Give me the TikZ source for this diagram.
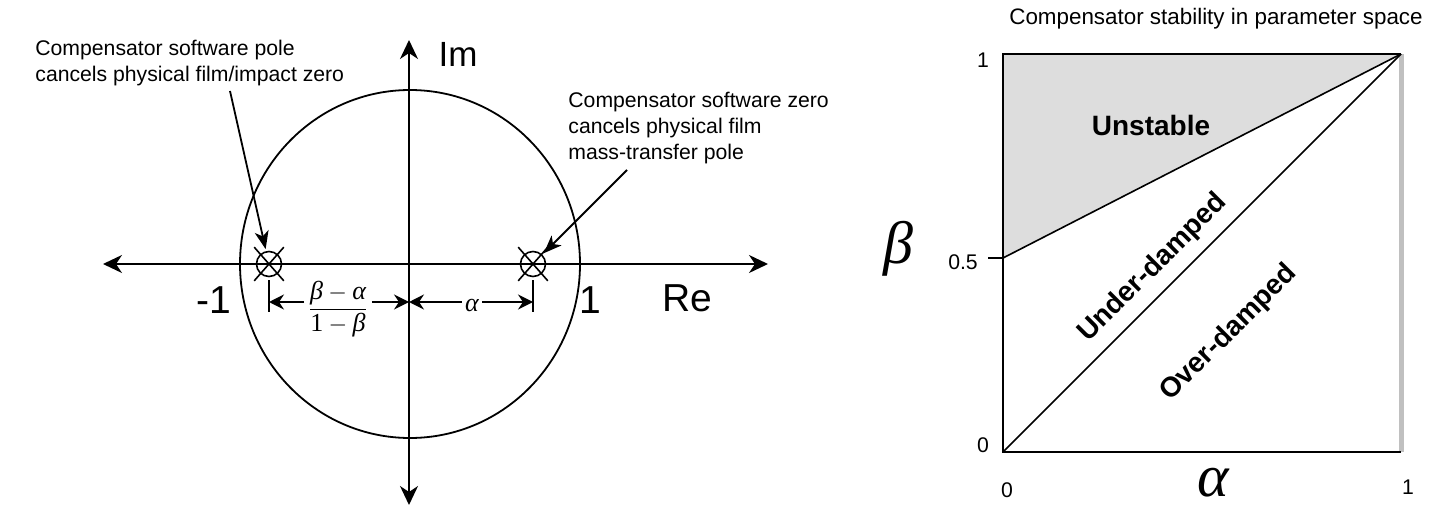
\documentclass[tikz,border=0pt]{standalone}
\usepackage{fontspec}
\setmainfont{Liberation Sans}
\newfontfamily\gkfont{Liberation Serif}
\newcommand\gbeta{\mbox{\gkfont\itshape β}}
\newcommand\galpha{\mbox{\gkfont\itshape α}}
\newcommand\gone{\mbox{\gkfont 1}}
\usetikzlibrary{positioning,arrows.meta,calc,shapes.misc}
\definecolor{greyfill}{HTML}{DDDDDD}
\definecolor{edge}{HTML}{C0C0C0}

\begin{document}
\begin{tikzpicture}[x=0.5pt,y=-0.5pt,
  font=\fontsize{10.6}{13}\selectfont,
  ax/.style={line width=0.9pt,{Stealth[length=9.5pt,width=9pt,inset=3pt]}-{Stealth[length=9.5pt,width=9pt,inset=3pt]}},
  dim/.style={line width=0.9pt,-{Stealth[length=7.5pt,width=7.5pt,inset=2.5pt]}},
  note/.style={line width=0.9pt,shorten >=1pt,-{Stealth[length=9pt,width=7pt,inset=2.5pt]}},
  big/.style={font=\fontsize{19.5}{22}\selectfont},
  txt/.style={align=left,inner sep=0pt,anchor=north west},
  pz/.style={circle,draw,line width=0.8pt,minimum size=12.5pt,inner sep=0pt},
  px/.style={cross out,draw,line width=0.8pt,minimum width=14pt,minimum height=16pt,inner sep=0pt},
  reg/.style={font=\fontsize{14}{16}\selectfont\bfseries},
  greek/.style={font=\fontsize{30}{34}\selectfont\gkfont\itshape},
  frac/.style={font=\fontsize{13}{15}\selectfont,inner sep=1.5pt}]
\useasboundingbox (0,0) rectangle (1429,519);
% z-plane
\coordinate (w) at (103,264); \coordinate (e) at (768,264);
\coordinate (n) at (409,40); \coordinate (s) at (409,505);
\draw[line width=0.9pt] (410,264) ellipse[x radius=85pt,y radius=87pt];
\draw[ax] (w)--(e); \draw[ax] (s)--(n);
\node[pz] (p) at (269,264) {}; \node[px] at (p) {};
\node[pz] (z) at (533,264) {}; \node[px] at (z) {};
\node[big] (m1) at (214,300) {-1};
\node[big] (one) at (590,300) {1};
\node[big] (re) at (687,298) {Re};
\node[font=\fontsize{17.5}{20}\selectfont] (im) at (458,54) {Im};
% dimensions
\draw[line width=0.8pt] (269,280)--(269,312);
\draw[line width=0.8pt] (533,280)--(533,312);
\coordinate (dl) at (269,302); \coordinate (dm) at (409,302); \coordinate (dr) at (533,302);
\node[frac] (fr) at (338,309) {$\displaystyle\frac{\gbeta-\galpha}{\gone-\gbeta}$};
\node[frac] (al) at (472,305) {$\galpha$};
\draw[dim] (fr.west |- dl)--(dl); \draw[dim] (fr.east |- dm)--(dm);
\draw[dim] (al.west |- dm)--(dm); \draw[dim] (al.east |- dr)--(dr);
% notes
\node[txt] (pn) at (35,40) {Compensator software pole\\cancels physical film/impact zero};
\node[txt] (zn) at (568,92) {Compensator software zero\\cancels physical film\\mass-transfer pole};
\coordinate (pa) at (230,91); \coordinate (za) at (627,170);
\draw[note] (pa)--(p); \draw[note] (za)--(z);
% parameter space
\coordinate (a0) at (1003,452); \coordinate (a1) at (1401,452);
\coordinate (b1) at (1003,54); \coordinate (c) at (1401,54);
\coordinate (bh) at (1003,258);
\fill[greyfill] (bh)--(b1)--(c)--cycle;
\draw[edge,line width=2.5pt] (a1)--(c);
\draw[line width=1pt] (a1)--(a0)--(b1)--(c);
\draw[line width=0.8pt] (a0)--(c); \draw[line width=0.8pt] (bh)--(c);
\draw[line width=0.8pt] (bh)--++(-15,0);
\node[font=\fontsize{11.2}{13}\selectfont] (ti) at (1216,19) {Compensator stability in parameter space};
\node (y1) at (983,60) {1}; \node (yh) at (963,262) {0.5}; \node (y0) at (983,445) {0};
\node (x0) at (1007,490) {0}; \node (x1) at (1408,487) {1};
\node[greek] (be) at (898,249) {β};
\node[greek] (alp) at (1213,483) {α};
\node[reg] (us) at (1151,125) {Unstable};
\node[reg,rotate=45] (ud) at (1153,268) {Under-damped};
\node[reg,rotate=45] (od) at (1229,333) {Over-damped};
\end{tikzpicture}
\end{document}
